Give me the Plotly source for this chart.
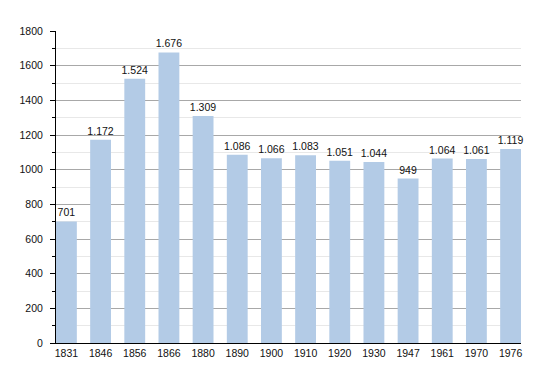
import plotly.graph_objects as go

years = ["1831", "1846", "1856", "1866", "1880", "1890", "1900", "1910",
         "1920", "1930", "1947", "1961", "1970", "1976"]
population = [701, 1172, 1524, 1676, 1309, 1086, 1066, 1083, 1051, 1044,
              949, 1064, 1061, 1119]
labels = [f"{v:,}".replace(",", ".") for v in population]
yticks = [0, 200, 400, 600, 800, 1000, 1200, 1400, 1600, 1800]

xpos = list(range(len(years)))
fig = go.Figure(go.Bar(
    x=xpos, y=population, width=0.61,
    marker=dict(color="#b3cbe6", line=dict(width=0)),
    text=labels, textposition="outside", cliponaxis=False,
    constraintext="none",
    textfont=dict(family="Liberation Sans, Arial", size=10.5, color="#111"),
))
fig.update_layout(
    width=542, height=365,
    margin=dict(l=42, r=29, t=23, b=30),
    plot_bgcolor="white", paper_bgcolor="white",
    showlegend=False,
    uniformtext=dict(minsize=10, mode="show"),
    font=dict(family="Liberation Sans, Arial", size=10.5, color="#111"),
    xaxis=dict(
        tickmode="array", tickvals=xpos, ticktext=years,
        range=[-0.305, len(years) - 0.695],
        showgrid=False, showline=True, linecolor="black", linewidth=1,
        ticks="", zeroline=False, fixedrange=True,
    ),
    yaxis=dict(
        range=[0, 1800], tickvals=yticks,
        showgrid=True, gridcolor="#a8a8a8", gridwidth=1,
        showline=True, linecolor="black", linewidth=1,
        ticks="outside", ticklen=5, tickcolor="black",
        ticklabelstandoff=5,
        zeroline=False,
        minor=dict(dtick=100, showgrid=True, gridcolor="#e8e8e8",
                   ticks="outside", ticklen=3, tickcolor="black"),
    ),
    bargap=0.4,
)
fig.write_html("out.html")
